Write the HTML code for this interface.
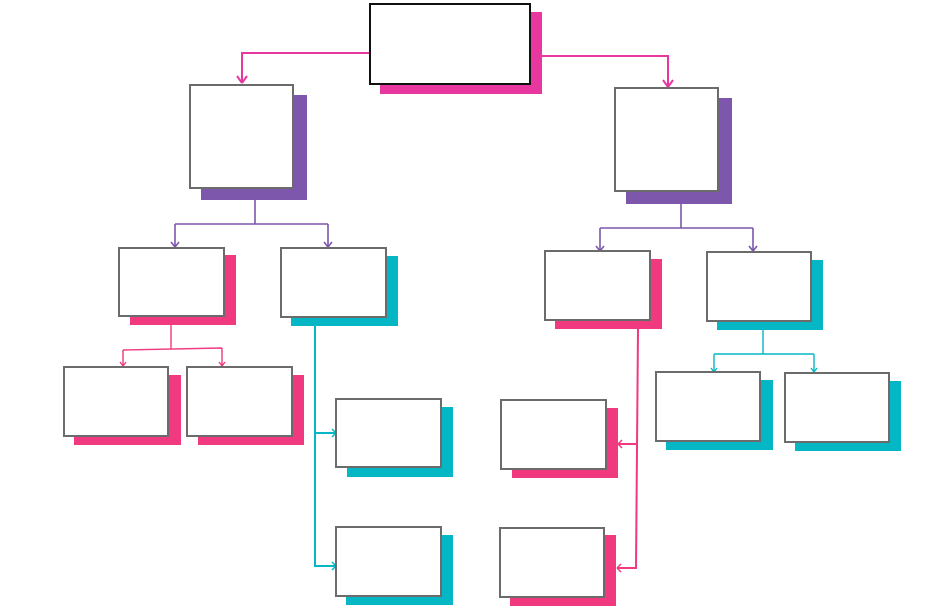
<!DOCTYPE html>
<html><head><style>html,body{margin:0;padding:0;background:#fff}svg{display:block}</style></head>
<body>
<svg width="933" height="616" viewBox="0 0 933 616" xmlns="http://www.w3.org/2000/svg">
<defs>
<marker id="am" markerWidth="10" markerHeight="10" refX="5" refY="8" orient="auto" markerUnits="userSpaceOnUse"><path d="M1,3 L5,8 L9,3" fill="none" stroke="#e8379f" stroke-width="1.8"/></marker>
</defs>
<g fill="none" stroke-width="2">
<path d="M370,53 H242 V82" stroke="#e8379f"/>
<path d="M242,83 l-5,-7 M242,83 l5,-7" stroke="#e8379f"/>
<path d="M542,56 H668 V86" stroke="#e8379f"/>
<path d="M668,87 l-5,-7 M668,87 l5,-7" stroke="#e8379f"/>
</g>
<g fill="none" stroke-width="1.6" stroke="#7c57ab">
<path d="M255,200 V224 M175,224 H328 M175,224 V246 M328,224 V246"/>
<path d="M175,247 l-4,-5 M175,247 l4,-5 M328,247 l-4,-5 M328,247 l4,-5"/>
<path d="M681,204 V228 M600,228 H753 M600,228 V250 M753,228 V250"/>
<path d="M600,251 l-4,-5 M600,251 l4,-5 M753,251 l-4,-5 M753,251 l4,-5"/>
</g>
<g fill="none" stroke-width="1.4" stroke="#f0397e">
<path d="M171,325 V349 M123,350 L222,348 M123,350 V365 M222,348 V365"/>
<path d="M123,366 l-3,-4 M123,366 l3,-4 M222,366 l-3,-4 M222,366 l3,-4"/>
</g>
<g fill="none" stroke-width="2" stroke="#f0397e">
<path d="M638,329 L636,568 H618 M636,444 H619"/>
<path d="M618,444 l4,-4 M618,444 l4,4 M617,568 l4,-4 M617,568 l4,4" stroke-width="1.5"/>
</g>
<g fill="none" stroke-width="2" stroke="#05b7c4">
<path d="M315,326 V566 H335 M316,433 H335"/>
<path d="M336,433 l-4,-4 M336,433 l-4,4 M336,566 l-4,-4 M336,566 l-4,4" stroke-width="1.5"/>
</g>
<g fill="none" stroke-width="1.4" stroke="#05b7c4">
<path d="M763,330 V354 M714,354 H814 M714,354 V371 M814,354 V371"/>
<path d="M714,372 l-3,-4 M714,372 l3,-4 M814,372 l-3,-4 M814,372 l3,-4"/>
</g>
<!-- shadows -->
<rect x="380" y="12" width="162" height="82" fill="#e8379f"/>
<rect x="201" y="95" width="106" height="105" fill="#7c57ab"/>
<rect x="626" y="98" width="106" height="106" fill="#7c57ab"/>
<rect x="130" y="255" width="106" height="70" fill="#f0397e"/>
<rect x="291" y="256" width="107" height="70" fill="#05b7c4"/>
<rect x="555" y="259" width="107" height="70" fill="#f0397e"/>
<rect x="717" y="260" width="106" height="70" fill="#05b7c4"/>
<rect x="74" y="375" width="107" height="70" fill="#f0397e"/>
<rect x="198" y="375" width="106" height="70" fill="#f0397e"/>
<rect x="347" y="407" width="106" height="70" fill="#05b7c4"/>
<rect x="346" y="535" width="107" height="70" fill="#05b7c4"/>
<rect x="512" y="408" width="106" height="70" fill="#f0397e"/>
<rect x="510" y="535" width="106" height="71" fill="#f0397e"/>
<rect x="666" y="380" width="107" height="70" fill="#05b7c4"/>
<rect x="795" y="381" width="106" height="70" fill="#05b7c4"/>
<!-- boxes -->
<rect x="370" y="4" width="160" height="80" fill="#fff" stroke="#111" stroke-width="2"/>
<g fill="#fff" stroke="#6b6b6b" stroke-width="2">
<rect x="190" y="85" width="103" height="103"/>
<rect x="615" y="88" width="103" height="103"/>
<rect x="119" y="248" width="105" height="68"/>
<rect x="281" y="248" width="105" height="69"/>
<rect x="545" y="251" width="105" height="69"/>
<rect x="707" y="252" width="104" height="69"/>
<rect x="64" y="367" width="104" height="69"/>
<rect x="187" y="367" width="105" height="69"/>
<rect x="336" y="399" width="105" height="68"/>
<rect x="336" y="527" width="105" height="69"/>
<rect x="501" y="400" width="105" height="69"/>
<rect x="500" y="528" width="104" height="69"/>
<rect x="656" y="372" width="104" height="69"/>
<rect x="785" y="373" width="104" height="69"/>
</g>
</svg>
</body></html>
